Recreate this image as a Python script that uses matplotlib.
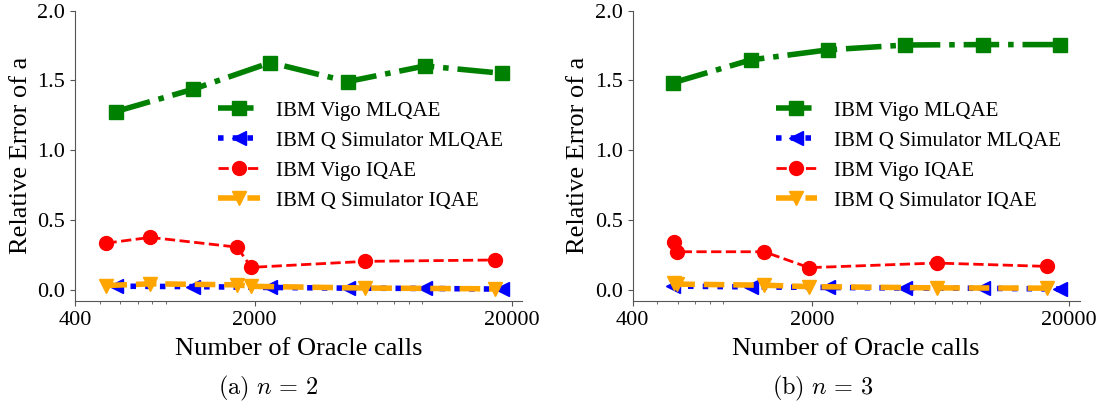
"""Relative error of a vs. number of oracle calls, MLQAE / IQAE on IBM Vigo and simulator."""
import matplotlib
matplotlib.use("Agg")
import matplotlib.pyplot as plt  # noqa: E402

plt.rcParams["font.family"] = "serif"
plt.rcParams["font.serif"] = ["Liberation Serif", "DejaVu Serif"]
plt.rcParams["mathtext.fontset"] = "cm"

# x positions (oracle calls)
mlqae_calls = [576, 1152, 2304, 4608, 9216, 18432]
iqae_calls_n2 = [530, 785, 1710, 1940, 5370, 17300]
iqae_calls_n3 = [582, 594, 1300, 1945, 6100, 16400]

# n = 2
vigo_mlqae_n2 = [1.277, 1.437, 1.628, 1.492, 1.604, 1.551]
sim_mlqae_n2 = [0.025, 0.022, 0.016, 0.011, 0.009, 0.004]
vigo_iqae_n2 = [0.334, 0.375, 0.305, 0.160, 0.203, 0.213]
sim_iqae_n2 = [0.030, 0.042, 0.035, 0.024, 0.012, 0.006]

# n = 3
vigo_mlqae_n3 = [1.484, 1.647, 1.719, 1.754, 1.757, 1.757]
sim_mlqae_n3 = [0.026, 0.020, 0.016, 0.012, 0.010, 0.005]
vigo_iqae_n3 = [0.340, 0.272, 0.272, 0.158, 0.191, 0.167]
sim_iqae_n3 = [0.045, 0.040, 0.032, 0.022, 0.013, 0.011]

xticks = [400, 2000, 20000]
yticks = [0.0, 0.5, 1.0, 1.5, 2.0]
captions = [r"$\mathrm{(a)}\ n\,=\,2$", r"$\mathrm{(b)}\ n\,=\,3$"]
SPINE = "#555555"
SERIF = "Liberation Serif"


def draw(ax, iqae_calls, vigo_m, sim_m, vigo_i, sim_i):
    ax.plot(mlqae_calls, vigo_m, "-.", color="green", marker="s", lw=4, ms=10,
            label="IBM Vigo MLQAE")
    ax.plot(mlqae_calls, sim_m, ":", color="blue", marker="<", lw=4, ms=10,
            label="IBM Q Simulator MLQAE")
    ax.plot(iqae_calls, vigo_i, "--", color="red", marker="o", lw=2, ms=10,
            label="IBM Vigo IQAE")
    ax.plot(iqae_calls, sim_i, "--", color="orange", marker="v", lw=4, ms=10,
            label="IBM Q Simulator IQAE")
    ax.set_xscale("log")
    ax.set_xlim(400, 22000)
    ax.set_ylim(-0.08, 2.0)
    ax.set_xticks(xticks)
    ax.set_xticklabels([str(t) for t in xticks], fontfamily=SERIF, fontsize=16)
    ax.set_yticks(yticks)
    ax.set_yticklabels([f"{t:.1f}" for t in yticks], fontfamily=SERIF, fontsize=16)
    ax.tick_params(color=SPINE)
    ax.tick_params(which="minor", color=SPINE)
    for side in ("top", "right"):
        ax.spines[side].set_visible(False)
    for side in ("left", "bottom"):
        ax.spines[side].set_color(SPINE)
    ax.set_xlabel("Number of Oracle calls", fontsize=19, labelpad=6)
    ax.set_ylabel("Relative Error of a", fontsize=19)
    ax.legend(loc="center right", frameon=False, fontsize=15,
              labelspacing=0.5, handletextpad=0.8)


def main():
    fig = plt.figure(figsize=(11.04, 4.11), dpi=100)
    ax1 = fig.add_axes([0.068, 0.268, 0.405, 0.706])
    ax2 = fig.add_axes([0.573, 0.268, 0.405, 0.706])
    draw(ax1, iqae_calls_n2, vigo_mlqae_n2, sim_mlqae_n2, vigo_iqae_n2, sim_iqae_n2)
    draw(ax2, iqae_calls_n3, vigo_mlqae_n3, sim_mlqae_n3, vigo_iqae_n3, sim_iqae_n3)
    fig.text(0.243, 0.055, captions[0], fontsize=17.5, ha="center", va="center")
    fig.text(0.745, 0.055, captions[1], fontsize=17.5, ha="center", va="center")
    fig.savefig("out.png", dpi=100)
    plt.close(fig)


if __name__ == "__main__":
    main()
